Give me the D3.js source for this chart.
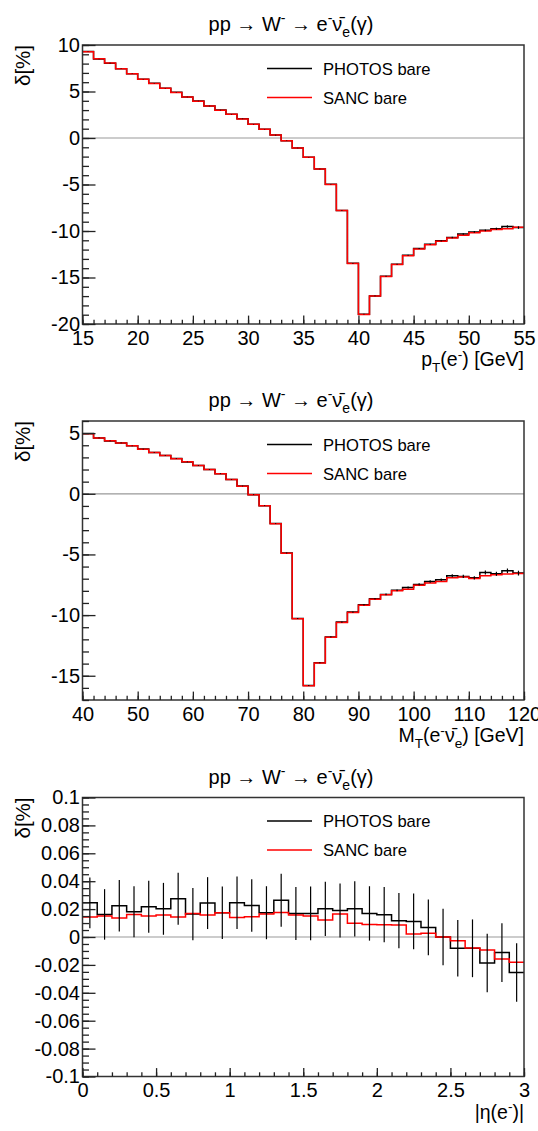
<!DOCTYPE html>
<html>
<head>
<meta charset="utf-8">
<script src="https://cdn.jsdelivr.net/npm/d3@7"></script>
<style>
body { margin: 0; background: #fff; }
svg { display: block; font-family: "Liberation Sans", Arial, sans-serif; }
</style>
</head>
<body>
<div id="chart"></div>
<script>
// ---- data ----
// panel 1 : p_T(e-), 1 GeV bins from 15 to 55
const ptRange = [15, 55];
const ptBinWidth = 1;
const ptSanc = [9.28, 8.52, 8.06, 7.44, 6.9, 6.33, 5.87, 5.36, 4.9, 4.42,
    3.96, 3.45, 2.99, 2.56, 2.05, 1.48, 0.94, 0.32, -0.3, -1.08,
    -2.08, -3.34, -5.0, -7.8, -13.5, -18.98, -17.0, -14.88, -13.6, -12.65,
    -11.93, -11.47, -11.11, -10.75, -10.45, -10.2, -10.0, -9.85, -9.75, -9.6];
const ptPhotos = [9.3, 8.5, 8.05, 7.45, 6.9, 6.32, 5.88, 5.35, 4.92, 4.4,
    3.97, 3.44, 3.0, 2.55, 2.06, 1.47, 0.95, 0.31, -0.29, -1.07,
    -2.07, -3.33, -4.98, -7.8, -13.48, -18.95, -16.98, -14.86, -13.58, -12.6,
    -11.88, -11.42, -11.06, -10.7, -10.32, -10.1, -9.93, -9.75, -9.52, -9.63];
const ptPhotosErr = [0.03, 0.03, 0.03, 0.03, 0.03, 0.03, 0.03, 0.03, 0.03, 0.03,
    0.03, 0.03, 0.03, 0.03, 0.03, 0.03, 0.03, 0.03, 0.03, 0.03,
    0.03, 0.03, 0.03, 0.04, 0.04, 0.04, 0.04, 0.05, 0.05, 0.05,
    0.06, 0.06, 0.07, 0.07, 0.08, 0.09, 0.1, 0.11, 0.13, 0.14];
const ptTicks = [15, 20, 25, 30, 35, 40, 45, 50, 55];
const ptYTicks = [-20, -15, -10, -5, 0, 5, 10];

// panel 2 : M_T(e nu), 2 GeV bins from 40 to 120
const mtRange = [40, 120];
const mtBinWidth = 2;
const mtSanc = [4.95, 4.59, 4.37, 4.18, 3.96, 3.68, 3.4, 3.16, 2.89, 2.64,
    2.33, 2.0, 1.65, 1.18, 0.63, -0.08, -0.99, -2.47, -4.9, -10.3,
    -15.83, -13.96, -11.82, -10.61, -9.78, -9.18, -8.69, -8.33, -8.0, -7.86,
    -7.53, -7.36, -7.23, -6.93, -6.87, -6.98, -6.76, -6.68, -6.62, -6.57];
const mtPhotos = [4.97, 4.6, 4.36, 4.19, 3.95, 3.69, 3.41, 3.15, 2.9, 2.63,
    2.34, 2.0, 1.66, 1.17, 0.64, -0.07, -0.98, -2.46, -4.88, -10.28,
    -15.8, -13.93, -11.8, -10.58, -9.75, -9.14, -8.66, -8.3, -7.96, -7.72,
    -7.47, -7.23, -7.09, -6.76, -6.81, -6.93, -6.49, -6.6, -6.35, -6.54];
const mtPhotosErr = [0.03, 0.03, 0.03, 0.03, 0.03, 0.03, 0.03, 0.03, 0.03, 0.03,
    0.03, 0.03, 0.03, 0.03, 0.03, 0.03, 0.03, 0.03, 0.04, 0.04,
    0.04, 0.04, 0.05, 0.05, 0.05, 0.06, 0.06, 0.07, 0.07, 0.08,
    0.09, 0.1, 0.11, 0.12, 0.13, 0.14, 0.16, 0.17, 0.19, 0.2];
const mtTicks = [40, 50, 60, 70, 80, 90, 100, 110, 120];
const mtYTicks = [-15, -10, -5, 0, 5];

// panel 3 : |eta(e-)|, 0.1 bins from 0 to 3
const etaRange = [0, 3];
const etaBinWidth = 0.1;
const etaSanc = [0.0143, 0.015, 0.0136, 0.0162, 0.015, 0.0157, 0.0143, 0.0169, 0.0157, 0.0174,
    0.014, 0.0145, 0.0164, 0.0176, 0.0157, 0.015, 0.0121, 0.0164, 0.0098, 0.009,
    0.0088, 0.0086, 0.0021, 0.0026, 0.0, -0.0026, -0.0079, -0.0093, -0.0157, -0.0181];
const etaPhotos = [0.0245, 0.0162, 0.0224, 0.0181, 0.0217, 0.0202, 0.0274, 0.0164, 0.0243, 0.0174,
    0.0245, 0.0226, 0.0174, 0.0264, 0.0169, 0.0169, 0.0202, 0.019, 0.0202, 0.0169,
    0.016, 0.0117, 0.0112, 0.0069, 0.0, -0.0081, -0.0081, -0.0186, -0.0112, -0.0255];
const etaPhotosErr = [0.0182, 0.0181, 0.0185, 0.0183, 0.0186, 0.0186, 0.0186, 0.0187, 0.0186, 0.0188,
    0.0188, 0.0188, 0.019, 0.019, 0.019, 0.0193, 0.0194, 0.0194, 0.0198, 0.0195,
    0.0198, 0.0198, 0.02, 0.02, 0.0202, 0.0202, 0.0207, 0.021, 0.021, 0.021];
const etaTicks = [0, 0.5, 1, 1.5, 2, 2.5, 3];
const etaYTicks = [-0.1, -0.08, -0.06, -0.04, -0.02, 0, 0.02, 0.04, 0.06, 0.08, 0.1];

const legendNames = ["PHOTOS bare", "SANC bare"];

// ---- layout ----
const width = 538, height = 1131;
const frameLeft = 82.5, frameRight = 524;
const frameH = 279;
const labelSize = 20;

const svg = d3.select("#chart").append("svg")
    .attr("width", width)
    .attr("height", height);

// super/subscript helper: parts = [[text, "sup"|"sub"|""], ...]
function richText(textSel, parts, fs) {
    let shift = 0;
    parts.forEach(function(p) {
        let target = 0;
        if (p[1] === "sup") target = -0.38 * fs;
        if (p[1] === "sub") target = 0.3 * fs;
        textSel.append("tspan")
            .attr("dy", target - shift)
            .attr("font-size", p[1] ? fs * 0.7 : fs)
            .text(p[0]);
        shift = target;
    });
}

const titleParts = [["pp \u2192 W", ""], ["-", "sup"], [" \u2192 e", ""], ["-", "sup"],
    ["\u03bd\u0304", ""], ["e", "sub"], ["(\u03b3)", ""]];

function drawPanel(cfg) {
    const top = cfg.top, bottom = cfg.top + frameH;
    const g = svg.append("g");

    const x = d3.scaleLinear().domain(cfg.xRange).range([frameLeft, frameRight]);
    const y = d3.scaleLinear().domain(cfg.yDomain).range([bottom, top]);

    //zero line
    g.append("line")
        .attr("x1", frameLeft).attr("x2", frameRight)
        .attr("y1", y(0)).attr("y2", y(0))
        .attr("stroke", "#999").attr("stroke-width", 1.2);

    const bins = function(vals) {
        const pts = vals.map((v, i) => [cfg.xRange[0] + i * cfg.binW, v]);
        pts.push([cfg.xRange[0] + vals.length * cfg.binW, vals[vals.length - 1]]);
        return pts;
    };
    const step = d3.line()
        .x(d => x(d[0]))
        .y(d => y(d[1]))
        .curve(d3.curveStepAfter);

    g.append("path")
        .attr("d", step(bins(cfg.photos)))
        .attr("fill", "none").attr("stroke", "#000").attr("stroke-width", 1.5);
    g.append("path")
        .attr("d", step(bins(cfg.sanc)))
        .attr("fill", "none").attr("stroke", "#f00").attr("stroke-width", 1.5);

    //error bars of PHOTOS
    g.append("g").selectAll("line")
        .data(cfg.photos)
        .join("line")
        .attr("x1", (d, i) => x(cfg.xRange[0] + (i + 0.5) * cfg.binW))
        .attr("x2", (d, i) => x(cfg.xRange[0] + (i + 0.5) * cfg.binW))
        .attr("y1", (d, i) => y(d - cfg.err[i]))
        .attr("y2", (d, i) => y(d + cfg.err[i]))
        .attr("stroke", "#000").attr("stroke-width", 1.2);

    //frame
    g.append("rect")
        .attr("x", frameLeft).attr("y", top)
        .attr("width", frameRight - frameLeft).attr("height", frameH)
        .attr("fill", "none").attr("stroke", "#333").attr("stroke-width", 1.5);

    //axes, ticks inside the frame
    const yMinor = d3.range(cfg.yDomain[0], cfg.yDomain[1] + 1e-9, cfg.yMinorStep);
    const xMinor = d3.range(cfg.xRange[0], cfg.xRange[1] + 1e-9, cfg.xMinorStep);

    g.append("g")
        .attr("transform", `translate(${frameLeft},0)`)
        .call(d3.axisLeft(y).tickValues(cfg.yTicks).tickSizeInner(-13).tickSizeOuter(0)
            .tickPadding(2.5).tickFormat(d => String(+d.toFixed(3))));
    g.append("g")
        .attr("transform", `translate(${frameLeft},0)`)
        .call(d3.axisLeft(y).tickValues(yMinor).tickSizeInner(-6.5).tickSizeOuter(0).tickFormat(""));

    g.append("g")
        .attr("transform", `translate(0,${bottom})`)
        .call(d3.axisBottom(x).tickValues(cfg.xTicks).tickSizeInner(-8.4).tickSizeOuter(0)
            .tickPadding(6.5).tickFormat(d => String(d)));
    g.append("g")
        .attr("transform", `translate(0,${bottom})`)
        .call(d3.axisBottom(x).tickValues(xMinor).tickSizeInner(-4.2).tickSizeOuter(0).tickFormat(""));

    g.selectAll(".domain").remove();
    g.selectAll(".tick line").attr("stroke", "#222").attr("stroke-width", 1.3);
    g.selectAll(".tick text")
        .attr("font-family", "Liberation Sans, Arial, sans-serif")
        .attr("font-size", labelSize).attr("fill", "#000");

    //title
    const title = g.append("text")
        .attr("x", 291).attr("y", top - 14)
        .attr("text-anchor", "middle");
    richText(title, titleParts, 20);

    //y axis title
    g.append("text")
        .attr("transform", `translate(30,${top}) rotate(-90)`)
        .attr("text-anchor", "end")
        .attr("font-size", 20.5)
        .text("\u03b4[%]");

    //x axis title
    const xt = g.append("text")
        .attr("x", frameRight).attr("y", bottom + 42)
        .attr("text-anchor", "end");
    richText(xt, cfg.xTitle, 19.5);

    //legend
    const colors = ["#000", "#f00"];
    legendNames.forEach(function(name, i) {
        const ly = top + 23.5 + i * 29;
        g.append("line")
            .attr("x1", 267).attr("x2", 312)
            .attr("y1", ly).attr("y2", ly)
            .attr("stroke", colors[i]).attr("stroke-width", 1.5);
        g.append("text")
            .attr("x", 323).attr("y", ly + 6)
            .attr("font-size", 16.6)
            .text(name);
    });
}

drawPanel({
    top: 45, xRange: ptRange, binW: ptBinWidth, yDomain: [-20, 10],
    sanc: ptSanc, photos: ptPhotos, err: ptPhotosErr,
    xTicks: ptTicks, yTicks: ptYTicks, xMinorStep: 1, yMinorStep: 1,
    xTitle: [["p", ""], ["T", "sub"], ["(e", ""], ["-", "sup"], [") [GeV]", ""]]
});

drawPanel({
    top: 421, xRange: mtRange, binW: mtBinWidth, yDomain: [-17, 6],
    sanc: mtSanc, photos: mtPhotos, err: mtPhotosErr,
    xTicks: mtTicks, yTicks: mtYTicks, xMinorStep: 2, yMinorStep: 1,
    xTitle: [["M", ""], ["T", "sub"], ["(e", ""], ["-", "sup"], ["\u03bd\u0304", ""], ["e", "sub"], [") [GeV]", ""]]
});

drawPanel({
    top: 797.5, xRange: etaRange, binW: etaBinWidth, yDomain: [-0.1, 0.1],
    sanc: etaSanc, photos: etaPhotos, err: etaPhotosErr,
    xTicks: etaTicks, yTicks: etaYTicks, xMinorStep: 0.1, yMinorStep: 0.005,
    xTitle: [["|\u03b7(e", ""], ["-", "sup"], [")|", ""]]
});
</script>
</body>
</html>
